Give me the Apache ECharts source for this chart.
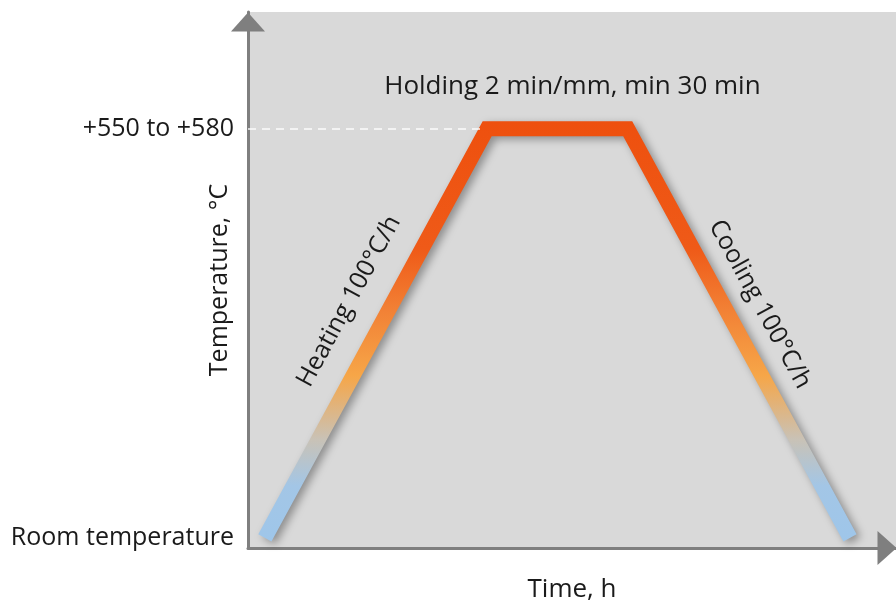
<!DOCTYPE html>
<html>
<head>
<meta charset="utf-8">
<script src="https://cdn.jsdelivr.net/npm/echarts@6/dist/echarts.min.js"></script>
<style>
  html, body { margin: 0; padding: 0; background: #fff; }
  #container { width: 896px; height: 603px; }
</style>
</head>
<body>
<div id="container"></div>
<script>
// profile of the heat treatment cycle (axis units are relative)
var timePoints = [2.6, 36.9, 58.6, 92.9];
var tempPoints = [1.9, 78.2, 78.2, 1.9];
var tempTickValues = [1.9, 78.2];
var tempTickLabels = ['Room temperature', '+550 to +580'];
var holdLabel = 'Holding 2 min/mm, min 30 min';
var heatLabel = 'Heating 100°C/h';
var coolLabel = 'Cooling 100°C/h';

var FONT = '"Open Sans", sans-serif';
var container = document.getElementById('container');
var myChart = echarts.init(container);

var lineData = timePoints.map(function (t, i) { return [t, tempPoints[i]]; });

var option = {
  backgroundColor: '#ffffff',
  animation: false,
  grid: {
    left: 248, right: 0, top: 12, bottom: 55,
    show: true,
    backgroundColor: '#d9d9d9',
    borderWidth: 0,
    containLabel: false,
    outerBoundsMode: 'none'
  },
  xAxis: {
    type: 'value',
    min: 0, max: 100,
    name: 'Time, h',
    nameLocation: 'middle',
    nameGap: 29,
    nameMoveOverlap: false,
    nameTextStyle: { fontFamily: FONT, fontSize: 26, color: '#1a1a1a' },
    axisLine: {
      show: true,
      symbol: ['none', 'triangle'],
      symbolSize: [34, 19],
      symbolOffset: [0, -9],
      lineStyle: { color: '#7f7f7f', width: 3 }
    },
    axisTick: { show: false },
    axisLabel: { show: false },
    splitLine: { show: false }
  },
  yAxis: {
    type: 'value',
    min: 0, max: 100,
    name: 'Temperature, °C',
    nameLocation: 'middle',
    nameGap: 16,
    nameRotate: 90,
    nameMoveOverlap: false,
    nameTextStyle: { fontFamily: FONT, fontSize: 25, color: '#1a1a1a' },
    axisLine: {
      show: true,
      symbol: ['none', 'triangle'],
      symbolSize: [34, 19],
      symbolOffset: [0, -10],
      lineStyle: { color: '#7f7f7f', width: 3 }
    },
    axisTick: { show: false },
    axisLabel: {
      show: true,
      margin: 14,
      fontFamily: FONT,
      fontSize: 25,
      color: '#1a1a1a',
      customValues: tempTickValues,
      formatter: function (v) {
        var i = tempTickValues.indexOf(v);
        return i >= 0 ? tempTickLabels[i] : '';
      }
    },
    splitLine: { show: false }
  },
  series: [{
    type: 'line',
    data: lineData,
    symbol: 'none',
    silent: true,
    lineStyle: {
      width: 15,
      cap: 'butt',
      join: 'miter',
      shadowColor: 'rgba(0,0,0,0.35)',
      shadowBlur: 8,
      shadowOffsetX: 4,
      shadowOffsetY: 3,
      color: new echarts.graphic.LinearGradient(0, 0, 0, 1, [
        { offset: 0, color: '#ee500e' },
        { offset: 0.3, color: '#ef5a18' },
        { offset: 0.45, color: '#f28236' },
        { offset: 0.6, color: '#f6a648' },
        { offset: 0.75, color: '#c9c2b6' },
        { offset: 0.86, color: '#a3c6e6' },
        { offset: 1, color: '#9ec6ea' }
      ])
    },
    markLine: {
      silent: true,
      symbol: 'none',
      label: { show: false },
      lineStyle: { color: '#ffffff', type: [8, 6], width: 1.5, opacity: 0.9 },
      data: [[{ coord: [0, tempPoints[1]] }, { coord: [timePoints[1] - 1, tempPoints[1]] }]]
    },
    z: 3
  }]
};

myChart.setOption(option);

// place the rotated annotations relative to the ramps
var p0 = myChart.convertToPixel('grid', lineData[0]);
var p1 = myChart.convertToPixel('grid', lineData[1]);
var p2 = myChart.convertToPixel('grid', lineData[2]);
var p3 = myChart.convertToPixel('grid', lineData[3]);
var heatAng = Math.atan2(p0[1] - p1[1], p1[0] - p0[0]);
var coolAng = Math.atan2(p3[1] - p2[1], p3[0] - p2[0]);
var textStyle = { fontFamily: FONT, fontSize: 25, fill: '#1a1a1a', align: 'center', verticalAlign: 'middle' };

myChart.setOption({
  graphic: [
    {
      type: 'text',
      x: (p1[0] + p2[0]) / 2 + 15, y: p1[1] - 42,
      style: Object.assign({ text: holdLabel }, textStyle, { fontSize: 26 })
    },
    {
      type: 'text',
      x: (p0[0] + p1[0]) / 2 - 27, y: (p0[1] + p1[1]) / 2 - 32,
      rotation: heatAng,
      style: Object.assign({ text: heatLabel }, textStyle)
    },
    {
      type: 'text',
      x: (p2[0] + p3[0]) / 2 + 21, y: (p2[1] + p3[1]) / 2 - 29,
      rotation: -coolAng,
      style: Object.assign({ text: coolLabel }, textStyle)
    }
  ]
});
</script>
</body>
</html>
